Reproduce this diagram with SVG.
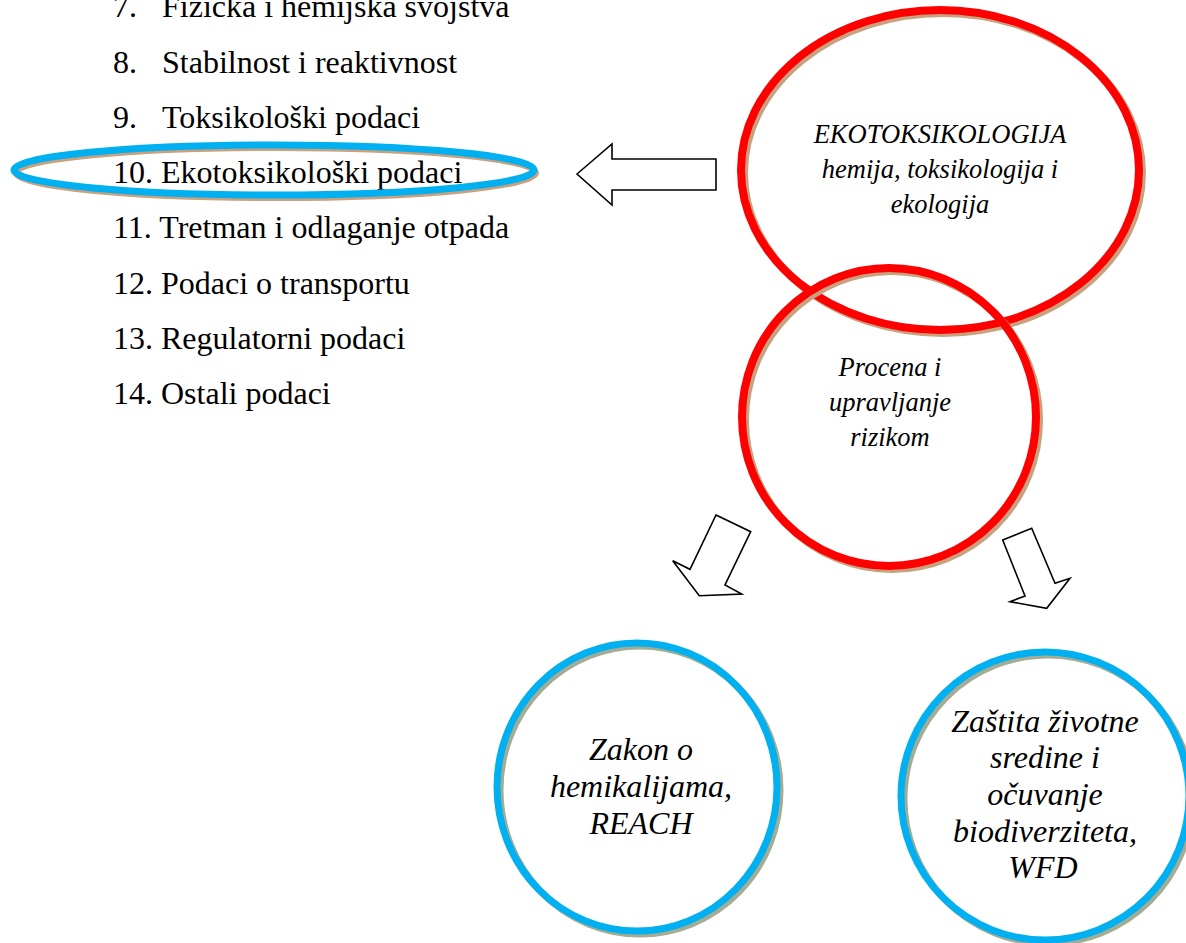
<svg xmlns="http://www.w3.org/2000/svg" width="1186" height="943" viewBox="0 0 1186 943">
<style>
.lst{font-family:"Liberation Serif","Times New Roman",serif;font-size:32px;fill:#000}
.it{font-family:"Liberation Serif","Times New Roman",serif;font-style:italic;fill:#000;text-anchor:middle}
.s26{font-size:26.5px}
.s32{font-size:32px}
.red{fill:none;stroke:#ff0000;stroke-width:8}
.redsh{fill:none;stroke:#c9a17f;stroke-width:8}
.blue{fill:none;stroke:#00b0f0;stroke-width:7}
.bluesh{fill:none;stroke:#a3ad95;stroke-width:7}
.bluesh2{fill:none;stroke:#c9a17f;stroke-width:6}
.arr{fill:#fff;stroke:#000;stroke-width:1.6;stroke-linejoin:miter}
</style>
<rect width="1186" height="943" fill="#fff"/>
<g id="list">
<text class="lst" x="113" y="17">7.</text><text class="lst" x="162" y="17">Fizička i hemijska svojstva</text>
<text class="lst" x="113" y="73">8.</text><text class="lst" x="162" y="73">Stabilnost i reaktivnost</text>
<text class="lst" x="113" y="128">9.</text><text class="lst" x="162" y="128">Toksikološki podaci</text>
<text class="lst" x="113" y="183">10. Ekotoksikološki podaci</text>
<text class="lst" x="113" y="238">11. Tretman i odlaganje otpada</text>
<text class="lst" x="113" y="294">12. Podaci o transportu</text>
<text class="lst" x="113" y="349">13. Regulatorni podaci</text>
<text class="lst" x="113" y="404">14. Ostali podaci</text>
</g>
<g id="highlight">
<ellipse class="bluesh2" cx="276" cy="173" rx="260" ry="25"/>
<ellipse class="blue" cx="274" cy="170" rx="260" ry="25" stroke-width="6"/>
</g>
<g id="ekotoksikologija">
<ellipse class="redsh" cx="943" cy="173" rx="199" ry="160"/>
<ellipse class="red" cx="940" cy="170" rx="199" ry="160"/>
<text class="it s26" x="940" y="143">EKOTOKSIKOLOGIJA</text>
<text class="it s26" x="940" y="178">hemija, toksikologija i</text>
<text class="it s26" x="940" y="213">ekologija</text>
</g>
<g id="procena">
<ellipse class="redsh" cx="892" cy="420" rx="147" ry="149"/>
<ellipse class="red" cx="889" cy="417" rx="147" ry="149"/>
<text class="it s26" x="890" y="376">Procena i</text>
<text class="it s26" x="890" y="411">upravljanje</text>
<text class="it s26" x="890" y="446">rizikom</text>
</g>
<g id="reach">
<ellipse class="bluesh" cx="640" cy="790" rx="140" ry="144"/>
<ellipse class="blue" cx="637" cy="787" rx="140" ry="144"/>
<text class="it s32" x="641" y="760">Zakon o</text>
<text class="it s32" x="641" y="797">hemikalijama,</text>
<text class="it s32" x="641" y="834">REACH</text>
</g>
<g id="wfd">
<ellipse class="bluesh" cx="1048" cy="799" rx="144" ry="144"/>
<ellipse class="blue" cx="1045" cy="796" rx="144" ry="144"/>
<text class="it s32" x="1045" y="732">Zaštita životne</text>
<text class="it s32" x="1045" y="768">sredine i</text>
<text class="it s32" x="1045" y="805">očuvanje</text>
<text class="it s32" x="1045" y="842">biodiverziteta,</text>
<text class="it s32" x="1043" y="878">WFD</text>
</g>
<g id="connectors">
<polygon class="arr" points="577,174 612,144 612,159 716,159 716,190 612,190 612,205"/>
<polygon class="arr" points="716,515 750.7,531.7 725,585 741.7,594 699.3,595.7 672.7,560.7 690,569.3"/>
<polygon class="arr" points="1002.7,540 1031.7,528.3 1055,583.3 1070,578.3 1046.7,608.3 1010,601.7 1025,596"/>
</g>
</svg>
